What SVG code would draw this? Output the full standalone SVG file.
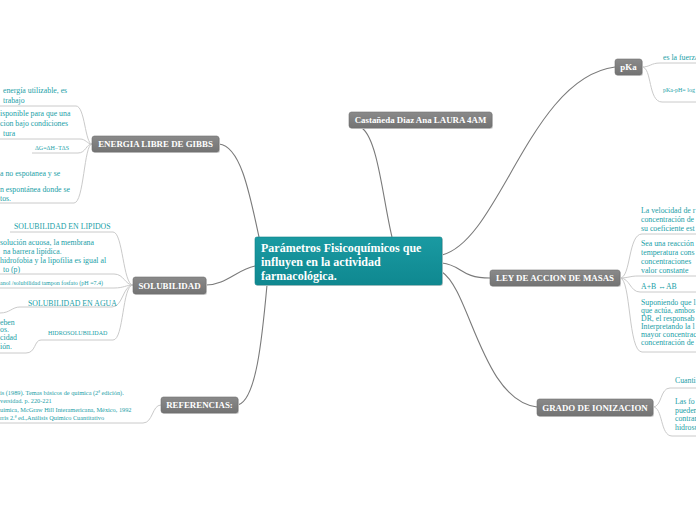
<svg xmlns="http://www.w3.org/2000/svg" width="696" height="520" viewBox="0 0 696 520">
<defs>
<linearGradient id="gg" x1="0" y1="0" x2="0" y2="1"><stop offset="0" stop-color="#8a8a8a"/><stop offset="1" stop-color="#737373"/></linearGradient>
<linearGradient id="gt" x1="0" y1="0" x2="0" y2="1"><stop offset="0" stop-color="#1a9aa2"/><stop offset="1" stop-color="#0f8890"/></linearGradient>
</defs>
<style>
.bg{fill:#ffffff}
.sh{fill:#d4d4d4}
.nr{fill:url(#gg);stroke:#6e6e6e;stroke-width:0.6}
.nt{font-family:"Liberation Serif",serif;font-weight:bold;font-size:8.9px;fill:#ffffff;text-anchor:middle}
.ct{font-family:"Liberation Serif",serif;font-weight:bold;font-size:12px;fill:#ffffff}
.m{fill:none;stroke:#7a7a7a;stroke-width:1.1}
.c{fill:none;stroke:#cacaca;stroke-width:1}
.t{font-family:"Liberation Serif",serif;font-size:7.8px;fill:#21a0a7}
.s{font-family:"Liberation Serif",serif;font-size:6px;fill:#21a0a7}
.r{font-family:"Liberation Serif",serif;font-size:6.3px;fill:#21a0a7}
</style>
<rect class="bg" x="0" y="0" width="696" height="520"/>

<g id="connectors">
<path class="m" d="M362 128 C378 140 383 200 392 237"/>
<path class="m" d="M219 144 C240 146 249 190 259 237"/>
<path class="m" d="M442 255 C500 240 530 78 615 67"/>
<path class="m" d="M442 263 C462 265 460 278 490 278"/>
<path class="m" d="M442 272 C470 290 482 400 537 407"/>
<path class="m" d="M255 266 C236 270 226 285 206 285"/>
<path class="m" d="M267 285 C262 340 256 400 238 405"/>

<path class="c" d="M92 144 C85 144 85 106 76 106 H0"/>
<path class="c" d="M92 144 C87 144 86 139 80 139 H0"/>
<path class="c" d="M92 144 C86 144 86 153 78 153 H32"/>
<path class="c" d="M92 144 C84 144 84 203 74 203 H0"/>

<path class="c" d="M133 285 C123 285 123 232 113 232 H10"/>
<path class="c" d="M133 285 C125 285 124 274 114 274 H0"/>
<path class="c" d="M133 285 C126 285 124 288 114 288 H0"/>
<path class="c" d="M133 285 C123 285 123 307 112 307 H20 C12 307 10 313 0 313"/>
<path class="c" d="M133 285 C122 285 124 340 113 340 H41 C34 340 36 353 26 353 H0"/>

<path class="c" d="M161 405 C152 405 153 423 143 423 H0"/>

<path class="c" d="M642 67 C650 67 651 63 660 63 H696"/>
<path class="c" d="M642 67 C652 67 648 102 662 102 H696"/>

<path class="c" d="M620 278 C631 278 628 234 642 234 H696"/>
<path class="c" d="M620 278 C628 278 630 276 638 276 H696"/>
<path class="c" d="M620 278 C630 278 630 292 640 292 H696"/>
<path class="c" d="M620 278 C631 278 628 352 642 352 H696"/>

<path class="c" d="M653 407 C662 407 660 388 670 388 H696"/>
<path class="c" d="M653 407 C663 407 660 436 672 436 H696"/>
</g>

<g id="central">
<rect x="256" y="238" width="187" height="48" rx="2" class="sh"/>
<rect x="255" y="237" width="187" height="48" rx="2" fill="url(#gt)" stroke="#0d7f86" stroke-width="0.6"/>
<text class="ct" x="261" y="251.5">Parámetros Fisicoquímicos que</text>
<text class="ct" x="261" y="265.5">influyen en la actividad</text>
<text class="ct" x="261" y="279.5">farmacológica.</text>
</g>

<g id="castaneda">
<rect x="350" y="113" width="143" height="16" rx="2.5" class="sh"/>
<rect x="349" y="112" width="143" height="16" rx="2.5" class="nr"/>
<text class="nt" x="420.5" y="123.3">Castañeda Diaz Ana LAURA 4AM</text>
</g>

<g id="gibbs">
<rect x="93" y="137" width="127" height="16" rx="2.5" class="sh"/>
<rect x="92" y="136" width="127" height="16" rx="2.5" class="nr"/>
<text class="nt" x="155.5" y="147.3">ENERGIA LIBRE DE GIBBS</text>
<text class="t" x="3" y="93">energía utilizable, es</text>
<text class="t" x="3" y="102.5">trabajo</text>
<text class="t" x="0" y="116">isponible para que una</text>
<text class="t" x="0" y="126">cion bajo condiciones</text>
<text class="t" x="3" y="135.5">tura</text>
<text class="s" x="35" y="150">ΔG=ΔH−TΔS</text>
<text class="t" x="0" y="175.5">a no espotanea y se</text>
<text class="t" x="0" y="192">n espontánea donde se</text>
<text class="t" x="0" y="201">tos.</text>
</g>

<g id="solubilidad">
<rect x="134" y="278" width="73" height="17" rx="2.5" class="sh"/>
<rect x="133" y="277" width="73" height="17" rx="2.5" class="nr"/>
<text class="nt" x="169.5" y="288.6">SOLUBILIDAD</text>
<text class="t" x="14" y="228.5">SOLUBILIDAD EN LIPIDOS</text>
<text class="t" x="0" y="244.5">solución acuosa, la membrana</text>
<text class="t" x="3" y="253.5">na barrera lipídica.</text>
<text class="t" x="0" y="262.5">hidrofobia y la lipofilia es igual al</text>
<text class="t" x="3" y="271.5">to (p)</text>
<text class="s" x="0" y="285">anol /solubilidad tampon fosfato (pH =7.4)</text>
<text class="t" x="28" y="305.5">SOLUBILIDAD EN AGUA</text>
<text class="t" x="0" y="324.5">eben</text>
<text class="t" x="0" y="332">os.</text>
<text class="t" x="0" y="339.5">cidad</text>
<text class="t" x="0" y="348.5">ión.</text>
<text class="s" x="48" y="335">HIDROSOLUBILIDAD</text>
</g>

<g id="referencias">
<rect x="162" y="398" width="77" height="16" rx="2.5" class="sh"/>
<rect x="161" y="397" width="77" height="16" rx="2.5" class="nr"/>
<text class="nt" x="199.5" y="408.3">REFERENCIAS:</text>
<text class="r" x="0" y="395">is (1989). Temas básicos de química (2ª edición).</text>
<text class="r" x="0" y="403">versidad. p. 220-221</text>
<text class="r" x="0" y="411.5">uímica, McGraw Hill Interamericana, México, 1992</text>
<text class="r" x="0" y="419.5">rris 2.ª ed.,Análisis Químico Cuantitativo</text>
</g>

<g id="pka">
<rect x="616" y="60" width="27" height="16" rx="2.5" class="sh"/>
<rect x="615" y="59" width="27" height="16" rx="2.5" class="nr"/>
<text class="nt" x="628.5" y="70.3">pKa</text>
<text class="t" x="663" y="59.5">es la fuerza</text>
<text class="s" x="663" y="91.5">pKa-pH= log</text>
</g>

<g id="ley">
<rect x="491" y="271" width="130" height="16" rx="2.5" class="sh"/>
<rect x="490" y="270" width="130" height="16" rx="2.5" class="nr"/>
<text class="nt" x="555" y="281.3">LEY DE ACCION DE MASAS</text>
<text class="t" x="641" y="213">La velocidad de r</text>
<text class="t" x="641" y="222">concentración de</text>
<text class="t" x="641" y="231">su coeficiente est</text>
<text class="t" x="641" y="246">Sea una reacción</text>
<text class="t" x="641" y="255">temperatura cons</text>
<text class="t" x="641" y="264">concentraciones</text>
<text class="t" x="641" y="273">valor constante</text>
<text class="t" x="641" y="288.5">A+B ↔AB</text>
<text class="t" x="641" y="304.5">Suponiendo que l</text>
<text class="t" x="641" y="312.5">que actúa, ambos</text>
<text class="t" x="641" y="320.5">DR, el responsab</text>
<text class="t" x="641" y="328.5">Interpretando la l</text>
<text class="t" x="641" y="336.5">mayor concentrac</text>
<text class="t" x="641" y="344.5">concentración de l</text>
</g>

<g id="grado">
<rect x="538" y="400" width="116" height="17" rx="2.5" class="sh"/>
<rect x="537" y="399" width="116" height="17" rx="2.5" class="nr"/>
<text class="nt" x="595" y="410.6">GRADO DE IONIZACION</text>
<text class="t" x="675" y="383">Cuanti</text>
<text class="t" x="675" y="404">Las fo</text>
<text class="t" x="675" y="412.5">pueden</text>
<text class="t" x="675" y="421">contran</text>
<text class="t" x="675" y="429.5">hidrosu</text>
</g>
</svg>
